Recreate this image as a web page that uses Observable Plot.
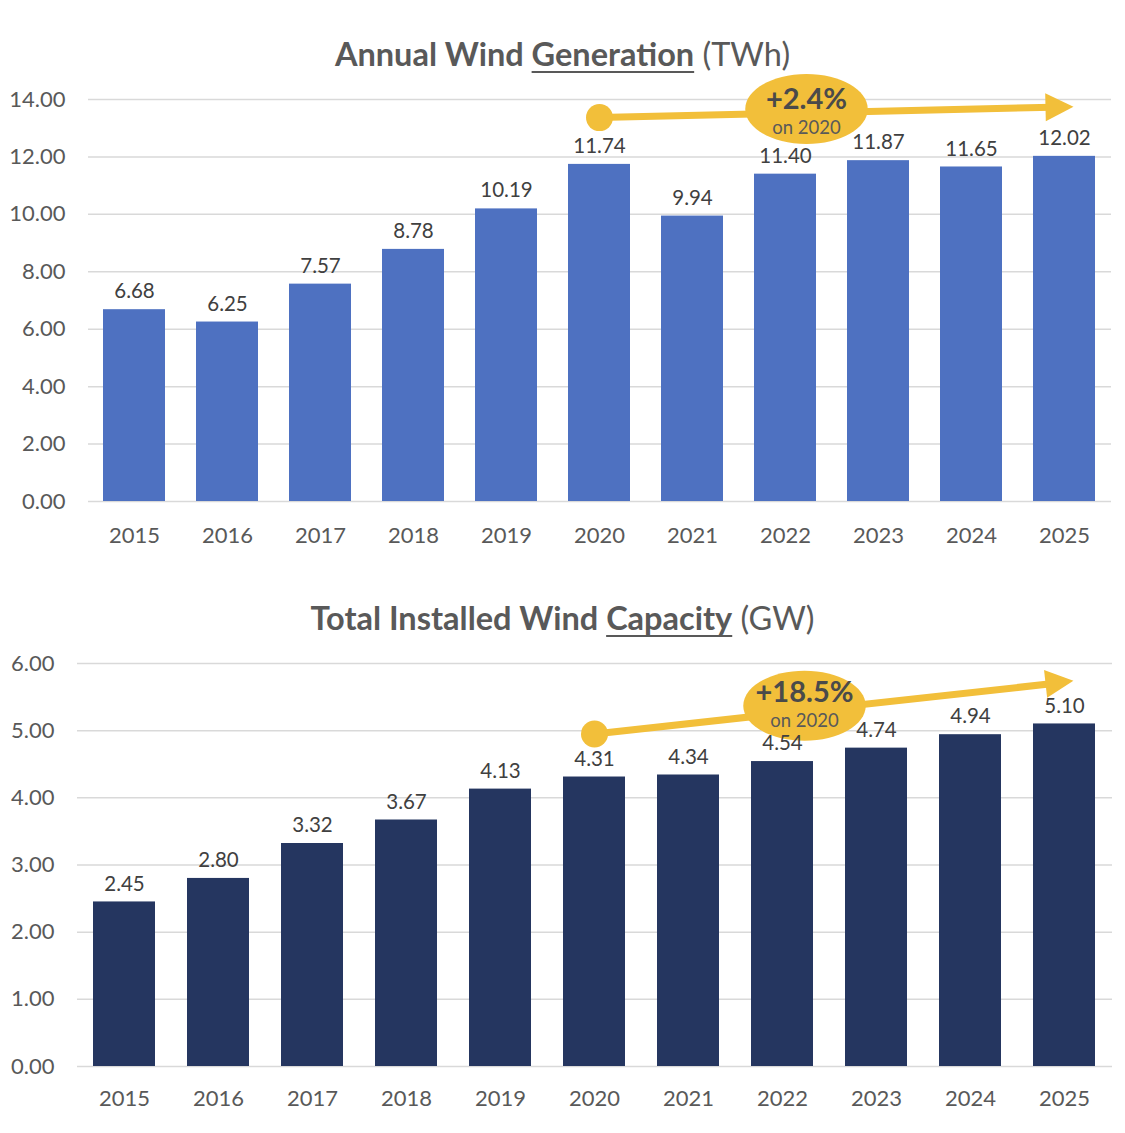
<!DOCTYPE html>
<html><head><meta charset="utf-8">
<script src="https://cdn.jsdelivr.net/npm/d3@7"></script>
<script src="https://cdn.jsdelivr.net/npm/@observablehq/plot@0.6"></script>
<style>
body{margin:0;background:#fff;width:1125px;height:1133px;position:relative;font-family:Lato,"Open Sans",sans-serif;overflow:hidden}
.title{position:absolute;left:0;width:1125px;text-align:center;font-size:32.5px;line-height:32px;color:#595959;z-index:2;white-space:nowrap}
.title b{font-weight:700}
.title u{text-decoration-thickness:2px;text-underline-offset:5px}
.chart{position:absolute;left:0;z-index:1}
</style></head>
<body>
<div class="title" style="top:38px"><b>Annual Wind <u>Generation</u></b> (TWh)</div>
<div class="chart" id="c1" style="top:70px"></div>
<div class="title" style="top:602px"><b>Total Installed Wind <u>Capacity</u></b> (GW)</div>
<div class="chart" id="c2" style="top:640px"></div>
<script>
// ---- data ----
const years = ["2015","2016","2017","2018","2019","2020","2021","2022","2023","2024","2025"];
const generation = [6.68,6.25,7.57,8.78,10.19,11.74,9.94,11.40,11.87,11.65,12.02];
const capacity = [2.45,2.80,3.32,3.67,4.13,4.31,4.34,4.54,4.74,4.94,5.10];
const genTicks = [0,2,4,6,8,10,12,14];
const capTicks = [0,1,2,3,4,5,6];
const baseYear = "2020";
const lastYear = "2025";
const noteYear = "2022";
const genChange = "+2.4%";
const capChange = "+18.5%";
const baseLabel = "on 2020";
// annotation levels (in chart units)
const genArrowLevels = {start: 13.37, end: 13.74, ellipse: 13.67, big: 14.0, small: 12.99};
const capArrowLevels = {start: 4.95, end: 5.72, ellipse: 5.37, big: 5.57, small: 5.14};

const YELLOW = "#F2BF3A";
const GREY = "#595959";
const fmt = d3.format(".2f");

function ellipseSymbol(aspect){
  return {draw(ctx,size){
    const r=Math.sqrt(size/Math.PI), rx=r*aspect, ry=r, k=0.5523;
    ctx.moveTo(rx,0);
    ctx.bezierCurveTo(rx,ry*k,rx*k,ry,0,ry);
    ctx.bezierCurveTo(-rx*k,ry,-rx,ry*k,-rx,0);
    ctx.bezierCurveTo(-rx,-ry*k,-rx*k,-ry,0,-ry);
    ctx.bezierCurveTo(rx*k,-ry,rx,-ry*k,rx,0);
    ctx.closePath();
  }};
}
function arrowHeadSymbol(angleDeg){
  return {draw(ctx,size){
    const r=Math.sqrt(size/Math.PI), a=angleDeg*Math.PI/180, c=Math.cos(a), s=Math.sin(a);
    const pts=[[r,0],[-r,-r],[-r,r]].map(([x,y])=>[x*c-y*s,x*s+y*c]);
    ctx.moveTo(pts[0][0],pts[0][1]);
    ctx.lineTo(pts[1][0],pts[1][1]);
    ctx.lineTo(pts[2][0],pts[2][1]);
    ctx.closePath();
  }};
}

function chart({values, ticks, domain, color, lv, change, angle, marginTop, marginBottom, marginLeft, marginRight, innerH, padInner, xPad, noteDx}){
  const data = years.map((y,i)=>({year:y, value:values[i]}));
  const line = [{x1:baseYear, y1:lv.start, x2:lastYear, y2:lv.end}];
  return Plot.plot({
    width:1125, height: marginTop+innerH+marginBottom,
    marginTop, marginBottom, marginLeft, marginRight,
    style:{background:"transparent", fontFamily:"Lato, 'Open Sans', sans-serif", fontSize:"21px", color:GREY},
    x:{type:"band", domain:years, paddingInner:padInner, paddingOuter:padInner/2},
    y:{domain},
    marks:[
      Plot.gridY(ticks,{stroke:"#d9d9d9", strokeOpacity:1, strokeWidth:1.5}),
      Plot.barY(data,{x:"year", y:"value", fill:color}),
      Plot.link(line,{x1:"x1", y1:"y1", x2:"x2", y2:"y2", stroke:YELLOW, strokeWidth:7}),
      Plot.dot([baseYear],{x:d=>d, y:()=>lv.start, r:13.5, fill:YELLOW}),
      Plot.dot([lastYear],{x:d=>d, y:()=>lv.end, dx:-5, r:14, fill:YELLOW, symbol:arrowHeadSymbol(angle)}),
      Plot.dot([noteYear],{x:d=>d, y:()=>lv.ellipse, dx:noteDx, r:35, fill:YELLOW, symbol:ellipseSymbol(1.75)}),
      Plot.text(data,{x:"year", y:"value", text:d=>fmt(d.value), dy:-18, fill:"#404040", fontSize:20.5}),
      Plot.text([change],{x:()=>noteYear, y:()=>lv.big, dx:noteDx, text:d=>d, fontSize:29, fontWeight:"bold", fill:"#4a4a4a"}),
      Plot.text([baseLabel],{x:()=>noteYear, y:()=>lv.small, dx:noteDx, text:d=>d, fontSize:18.5, fill:GREY}),
      Plot.axisX({tickSize:0, tickPadding:xPad, fontSize:22, color:GREY, label:null}),
      Plot.axisY(ticks,{tickSize:0, tickPadding:23, tickFormat:fmt, fontSize:22, color:GREY, label:null})
    ]
  });
}

document.getElementById("c1").append(chart({
  values:generation, ticks:genTicks, domain:[0,14], color:"#4E71C1", lv:genArrowLevels,
  change:genChange, angle:-1.3, marginTop:29, marginBottom:60, marginLeft:88, marginRight:14,
  innerH:402, padInner:0.333, xPad:26, noteDx:21
}));
document.getElementById("c2").append(chart({
  values:capacity, ticks:capTicks, domain:[0,6], color:"#253660", lv:capArrowLevels,
  change:capChange, angle:-6.3, marginTop:23, marginBottom:50, marginLeft:77, marginRight:13,
  innerH:403, padInner:0.34, xPad:24, noteDx:22
}));
</script>
</body></html>
